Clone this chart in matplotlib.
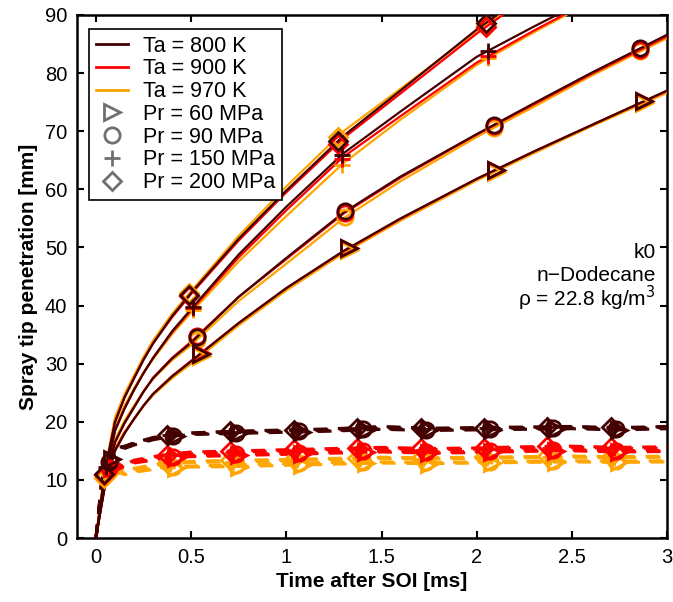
import numpy as np
import matplotlib
matplotlib.use('Agg')
import matplotlib.pyplot as plt
from matplotlib.lines import Line2D

plt.rcParams['font.family'] = ['Liberation Sans', 'DejaVu Sans']

# colours for ambient temperature
temps = [800, 900, 970]
colors = {800: '#420000', 900: '#ff0000', 970: '#ffa500'}

# injection pressures and their markers
pressures = [60, 90, 150, 200]
markers = {60: '>', 90: 'o', 150: '+', 200: 'D'}
msizes = {60: 11, 90: 11, 150: 11, 200: 9}

# spray tip penetration [mm]
t_pen = [0, 0.02, 0.05, 0.1, 0.15, 0.2, 0.25, 0.3, 0.4, 0.5, 0.75, 1.0, 1.3, 1.6, 2.0, 2.3, 2.6, 3.0]
pen_800 = {
    60:  [0, 4.0, 9.5, 15.0, 18.0, 20.5, 22.8, 24.8, 27.8, 30.4, 37.0, 43.0, 49.4, 55.0, 61.8, 66.5, 71.0, 77.0],
    90:  [0, 4.0, 10.0, 16.5, 19.8, 22.5, 25.2, 27.5, 30.9, 33.6, 41.5, 48.2, 56.0, 62.2, 69.5, 74.8, 80.0, 86.6],
    150: [0, 4.5, 11.0, 18.5, 22.3, 25.5, 28.4, 31.0, 35.6, 39.4, 48.8, 57.0, 66.2, 73.4, 82.8, 88.0, 93.0, 99.0],
    200: [0, 5.0, 12.0, 20.0, 24.2, 27.5, 30.7, 33.5, 38.2, 42.2, 51.5, 59.8, 69.2, 77.0, 87.5, 94.5, 99.0, 104.0],
}
pen_900 = {
    60:  [0, 4.0, 9.5, 15.2, 18.1, 20.5, 22.8, 24.8, 27.9, 30.5, 37.0, 43.0, 49.3, 54.9, 61.8, 66.5, 71.0, 76.9],
    90:  [0, 4.0, 10.0, 16.5, 19.8, 22.5, 25.2, 27.6, 31.0, 33.8, 41.5, 48.0, 55.8, 62.0, 69.4, 74.6, 79.8, 86.3],
    150: [0, 4.5, 11.2, 18.5, 22.3, 25.5, 28.4, 31.0, 35.4, 39.2, 48.3, 56.4, 65.6, 72.6, 81.8, 87.3, 92.5, 98.5],
    200: [0, 5.0, 12.0, 20.0, 24.2, 27.5, 30.7, 33.5, 38.0, 42.0, 51.2, 59.5, 68.8, 76.5, 86.8, 93.8, 98.5, 103.5],
}
pen_970 = {
    60:  [0, 4.5, 10.0, 15.5, 18.3, 20.5, 22.7, 24.6, 27.5, 30.0, 36.6, 42.6, 49.0, 54.6, 61.5, 66.2, 70.8, 76.6],
    90:  [0, 4.5, 10.5, 17.0, 20.2, 22.8, 25.3, 27.4, 30.6, 33.2, 40.8, 47.2, 55.0, 61.4, 69.0, 74.2, 79.5, 86.0],
    150: [0, 5.0, 11.5, 19.0, 22.8, 25.8, 28.5, 30.8, 35.1, 38.8, 47.6, 55.4, 64.5, 72.0, 81.4, 87.0, 92.3, 98.3],
    200: [0, 5.5, 12.5, 20.8, 24.8, 28.0, 31.2, 34.0, 38.6, 42.5, 52.0, 60.5, 70.0, 77.3, 87.2, 94.0, 98.8, 103.8],
}
pen = {800: pen_800, 900: pen_900, 970: pen_970}
pen_mark_t = {60: [0.55, 1.33, 2.10, 2.88], 90: [0.53, 1.31, 2.09, 2.86],
              150: [0.51, 1.29, 2.06, 2.84], 200: [0.49, 1.27, 2.05, 2.83]}

# liquid length [mm]
t_liq = [0, 0.03, 0.06, 0.1, 0.15, 0.2, 0.3, 0.4, 0.5, 0.75, 1.0, 1.25, 1.5, 1.75, 2.0, 2.25, 2.5, 2.75, 3.0]
liq_800 = {
    60:  [0, 8.5, 12.0, 14.6, 15.4, 16.0, 16.9, 17.5, 17.8, 18.0, 18.2, 18.4, 18.7, 18.5, 18.6, 18.7, 18.8, 18.6, 18.8],
    90:  [0, 9.0, 12.5, 15.0, 15.6, 16.2, 17.1, 17.6, 17.9, 18.1, 18.4, 18.5, 18.8, 18.6, 18.8, 18.9, 18.9, 18.8, 19.0],
    150: [0, 9.5, 12.8, 15.3, 15.7, 16.3, 17.2, 17.8, 18.0, 18.3, 18.5, 18.7, 19.0, 18.8, 18.9, 19.0, 19.1, 18.9, 19.1],
    200: [0, 10.0, 13.0, 15.5, 15.8, 16.4, 17.3, 17.9, 18.1, 18.4, 18.6, 18.8, 19.2, 18.9, 19.0, 19.1, 19.2, 19.0, 19.2],
}
liq_900 = {
    60:  [0, 8.5, 11.8, 12.3, 12.2, 12.9, 13.4, 13.8, 14.0, 14.2, 14.4, 14.6, 14.8, 14.6, 14.7, 14.9, 15.0, 14.8, 14.9],
    90:  [0, 9.0, 12.0, 12.5, 12.4, 13.0, 13.6, 14.0, 14.2, 14.4, 14.6, 14.8, 15.0, 14.8, 14.9, 15.1, 15.2, 15.0, 15.1],
    150: [0, 9.5, 12.3, 12.7, 12.5, 13.2, 13.8, 14.3, 14.5, 14.8, 15.0, 15.2, 15.4, 15.2, 15.3, 15.5, 15.6, 15.4, 15.5],
    200: [0, 10.0, 12.5, 12.9, 12.6, 13.4, 14.0, 14.5, 14.8, 15.0, 15.2, 15.4, 15.6, 15.4, 15.5, 15.7, 15.8, 15.6, 15.7],
}
liq_970 = {
    60:  [0, 8.5, 11.2, 11.5, 10.9, 11.3, 11.8, 12.1, 12.2, 12.3, 12.5, 12.7, 12.9, 12.8, 12.9, 13.0, 13.1, 13.0, 13.1],
    90:  [0, 9.0, 11.5, 11.8, 11.1, 11.5, 12.0, 12.3, 12.4, 12.6, 12.8, 13.0, 13.1, 13.0, 13.1, 13.2, 13.3, 13.2, 13.3],
    150: [0, 9.2, 11.8, 12.1, 11.4, 11.8, 12.4, 12.8, 13.0, 13.1, 13.3, 13.5, 13.7, 13.6, 13.7, 13.8, 13.9, 13.8, 13.9],
    200: [0, 9.5, 12.0, 12.3, 11.6, 12.0, 12.6, 13.0, 13.2, 13.4, 13.5, 13.7, 13.9, 13.8, 13.9, 14.0, 14.1, 14.0, 14.1],
}
liq = {800: liq_800, 900: liq_900, 970: liq_970}
liq_first = {60: 0.085, 90: 0.07, 150: 0.055, 200: 0.04}
liq_step = 0.333

fig = plt.figure(figsize=(6.73, 6.02), dpi=100)
ax = fig.add_axes([0.1144, 0.1063, 0.8767, 0.8688])

for T in [970, 900, 800]:
    c = colors[T]
    for p in pressures:
        # penetration curve and its markers
        ax.plot(t_pen, pen[T][p], '-', color=c, lw=1.6, zorder=3)
        mt = np.array(pen_mark_t[p])
        ax.plot(mt, np.interp(mt, t_pen, pen[T][p]), linestyle='none',
                marker=markers[p], ms=msizes[p], mfc='none', mec=c, mew=2.0, zorder=4)
        # liquid length curve and its markers
        ax.plot(t_liq, liq[T][p], '--', color=c, lw=2.2, dashes=(4.5, 3.5), zorder=3)
        lt = liq_first[p] + liq_step * np.arange(9)
        ax.plot(lt, np.interp(lt, t_liq, liq[T][p]), linestyle='none',
                marker=markers[p], ms=msizes[p], mfc='none', mec=c, mew=2.0, zorder=4)

ax.set_xlim(-0.1, 3)
ax.set_ylim(0, 90)
ax.set_xticks([0, 0.5, 1, 1.5, 2, 2.5, 3])
ax.set_xticklabels(['0', '0.5', '1', '1.5', '2', '2.5', '3'])
ax.set_yticks(np.arange(0, 91, 10))
ax.tick_params(direction='in', top=True, right=True, length=5, width=1.5,
               labelsize=14.5, pad=7)
for s in ax.spines.values():
    s.set_linewidth(1.8)

ax.set_xlabel('Time after SOI [ms]', fontsize=15, fontweight='bold', labelpad=4)
ax.set_ylabel('Spray tip penetration [mm]', fontsize=15, fontweight='bold', labelpad=5)

ax.text(2.94, 49.2, 'k0', ha='right', va='center', fontsize=15)
ax.text(2.94, 45.2, 'n\u2212Dodecane', ha='right', va='center', fontsize=15)
ax.text(2.94, 41.2, '\u03c1 = 22.8 kg/m$^3$', ha='right', va='center', fontsize=15)

gray = '#707070'
handles = [Line2D([], [], color=colors[T], lw=2) for T in temps]
handles += [Line2D([], [], linestyle='none', marker=markers[p], ms=msizes[p],
                   mfc='none', mec=gray, mew=2.0) for p in pressures]
labels = ['Ta = %d K' % T for T in temps] + ['Pr = %d MPa' % p for p in pressures]
leg = ax.legend(handles, labels, loc='upper left', bbox_to_anchor=(0.01, 0.985),
                fontsize=15.5, frameon=True, fancybox=False, framealpha=1,
                edgecolor='black', handlelength=1.5, handletextpad=0.7,
                labelspacing=0.08, borderpad=0.3, borderaxespad=0.3)
leg.get_frame().set_linewidth(1.2)

fig.savefig('out.png', dpi=100)
